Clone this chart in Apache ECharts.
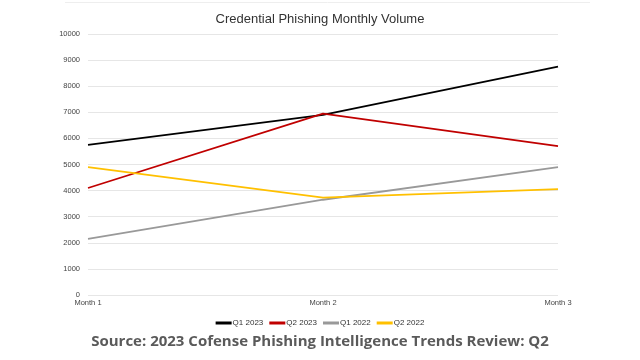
<!DOCTYPE html>
<html><head><meta charset="utf-8">
<script src="https://cdn.jsdelivr.net/npm/echarts@6/dist/echarts.min.js"></script>
<style>html,body{margin:0;padding:0;background:#fff;}#c{width:640px;height:360px;}</style>
</head><body><div id="c"></div>
<script>
const categories = ['Month 1', 'Month 2', 'Month 3'];
const q1_2023 = [5750, 6900, 8750];
const q2_2023 = [4100, 6950, 5700];
const q1_2022 = [2150, 3650, 4900];
const q2_2022 = [4900, 3730, 4060];
const seriesNames = ['Q1 2023', 'Q2 2023', 'Q1 2022', 'Q2 2022'];
const seriesData = [q1_2023, q2_2023, q1_2022, q2_2022];
const colors = ['#000000', '#c00000', '#999999', '#ffc000'];

const chart = echarts.init(document.getElementById('c'), null, {renderer: 'canvas'});
chart.setOption({
  animation: false,
  backgroundColor: '#fff',
  title: {
    text: 'Credential Phishing Monthly Volume',
    left: 'center', top: 8,
    textStyle: {fontFamily: 'Liberation Sans, Arial', fontSize: 13, fontWeight: 'normal', color: '#333'}
  },
  graphic: [
    {type: 'line', shape: {x1: 65, y1: 2.5, x2: 590, y2: 2.5}, style: {stroke: '#eeeeee', lineWidth: 1}},
    {type: 'text', left: 'center', top: 334,
     style: {text: 'Source: 2023 Cofense Phishing Intelligence Trends Review: Q2', fill: '#5a5a5a',
             font: 'bold 15px "Open Sans", sans-serif'}}
  ],
  legend: {
    top: 314, left: 'center',
    icon: 'rect', itemWidth: 16, itemHeight: 3, itemGap: 6,
    textStyle: {fontFamily: 'Liberation Sans, Arial', fontSize: 8, color: '#333', padding: [0, 0, 0, -4]},
    data: seriesNames
  },
  grid: {left: 88, right: 82, top: 34, bottom: 65},
  xAxis: {
    type: 'category', data: categories, boundaryGap: false,
    axisLine: {show: false}, axisTick: {show: false},
    axisLabel: {fontFamily: 'Liberation Sans, Arial', fontSize: 7.5, color: '#444', margin: 4}
  },
  yAxis: {
    type: 'value', min: 0, max: 10000, interval: 1000,
    axisLine: {show: false}, axisTick: {show: false},
    axisLabel: {fontFamily: 'Liberation Sans, Arial', fontSize: 7.5, color: '#444', margin: 8,
                formatter: v => String(v)},
    splitLine: {lineStyle: {color: '#e6e6e6', width: 1}}
  },
  series: seriesNames.map((n, i) => ({
    name: n, type: 'line', data: seriesData[i], showSymbol: false, symbol: 'none',
    lineStyle: {color: colors[i], width: 1.8}, itemStyle: {color: colors[i]}
  }))
});
</script></body></html>
